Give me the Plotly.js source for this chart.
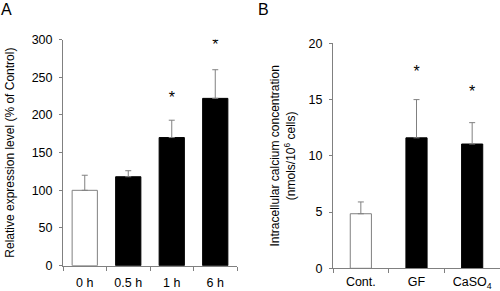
<!DOCTYPE html>
<html><head><meta charset="utf-8">
<script src="https://cdn.plot.ly/plotly-3.0.1.min.js"></script>
<style>html,body{margin:0;padding:0;background:#fff}#chart{width:500px;height:291px}</style>
</head><body><div id="chart"></div>
<script>
// Panel A
const catsA = ['0 h', '0.5 h', '1 h', '6 h'];
const valsA = [100, 118, 170, 222];
const errA = [20, 8, 23, 38];
const fillA = ['#ffffff', '#000000', '#000000', '#000000'];
const starCatsA = ['1 h', '6 h'];
const starYA = [221, 292];
// Panel B
const catsB = ['Cont.', 'GF', 'CaSO<sub>4</sub>'];
const valsB = [4.85, 11.6, 11.05];
const errB = [1.05, 3.4, 1.9];
const fillB = ['#ffffff', '#000000', '#000000'];
const starCatsB = ['GF', 'CaSO<sub>4</sub>'];
const starYB = [17.4, 15.6];

const grey = '#808080';
const fam = 'Liberation Sans, Arial, sans-serif';
const font = {family: fam, size: 12, color: '#000'};
const tickFont = {family: fam, size: 12.5, color: '#000'};

const traces = [
  {type: 'bar', x: catsA, y: valsA, xaxis: 'x', yaxis: 'y', width: 0.58,
   marker: {color: fillA, line: {color: fillA.map(c => c === '#ffffff' ? grey : '#000'), width: 1}},
   error_y: {type: 'data', symmetric: false, array: errA, arrayminus: errA.map(() => 0), color: grey, thickness: 1, width: 3},
   hoverinfo: 'none'},
  {type: 'scatter', mode: 'text', x: starCatsA, y: starYA, text: starCatsA.map(() => '*'), xaxis: 'x', yaxis: 'y',
   textfont: {family: fam, size: 16, color: '#000'}, textposition: 'middle center', hoverinfo: 'none'},
  {type: 'bar', x: catsB, y: valsB, xaxis: 'x2', yaxis: 'y2', width: 0.38,
   marker: {color: fillB, line: {color: fillB.map(c => c === '#ffffff' ? grey : '#000'), width: 1}},
   error_y: {type: 'data', symmetric: false, array: errB, arrayminus: errB.map(() => 0), color: grey, thickness: 1, width: 3},
   hoverinfo: 'none'},
  {type: 'scatter', mode: 'text', x: starCatsB, y: starYB, text: starCatsB.map(() => '*'), xaxis: 'x2', yaxis: 'y2',
   textfont: {family: fam, size: 16, color: '#000'}, textposition: 'middle center', hoverinfo: 'none'}
];

const xCommon = {type: 'category', showline: true, linecolor: grey, linewidth: 1, ticks: 'outside',
  tickson: 'boundaries', ticklen: 4, tickcolor: grey, showgrid: false, zeroline: false, tickfont: tickFont,
  fixedrange: true};
const yCommon = {showline: true, linecolor: grey, linewidth: 1, ticks: 'outside', ticklen: 3, tickcolor: grey,
  showgrid: false, zeroline: false, tickfont: tickFont, ticklabelstandoff: 4, fixedrange: true};

const layout = {
  width: 500, height: 291,
  margin: {l: 0, r: 0, t: 0, b: 0},
  paper_bgcolor: '#fff', plot_bgcolor: '#fff',
  showlegend: false, font: font,
  xaxis: Object.assign({}, xCommon, {domain: [0.126, 0.474], anchor: 'y', categoryorder: 'array', categoryarray: catsA,
    ticklabelstandoff: 5}),
  yaxis: Object.assign({}, yCommon, {domain: [0.087, 0.864], anchor: 'x', range: [0, 300], dtick: 50,
    title: {text: 'Relative expression level (% of Control)', font: font, standoff: 14}}),
  xaxis2: Object.assign({}, xCommon, {domain: [0.666, 1.0], anchor: 'y2', categoryorder: 'array', categoryarray: catsB,
    ticklabelstandoff: 2}),
  yaxis2: Object.assign({}, yCommon, {domain: [0.078, 0.851], anchor: 'x2', range: [0, 20], dtick: 5,
    title: {text: 'Intracellular calcium concentration<br>(nmols/10<sup>6</sup> cells)', font: font, standoff: 10}}),
  annotations: [
    {text: 'A', xref: 'paper', yref: 'paper', x: -0.002, y: 1.005, xanchor: 'left', yanchor: 'top', showarrow: false,
     font: {family: fam, size: 16, color: '#000'}},
    {text: 'B', xref: 'paper', yref: 'paper', x: 0.512, y: 1.005, xanchor: 'left', yanchor: 'top', showarrow: false,
     font: {family: fam, size: 16, color: '#000'}}
  ]
};

Plotly.newPlot('chart', traces, layout, {staticPlot: true, displayModeBar: false});
</script>
</body></html>
